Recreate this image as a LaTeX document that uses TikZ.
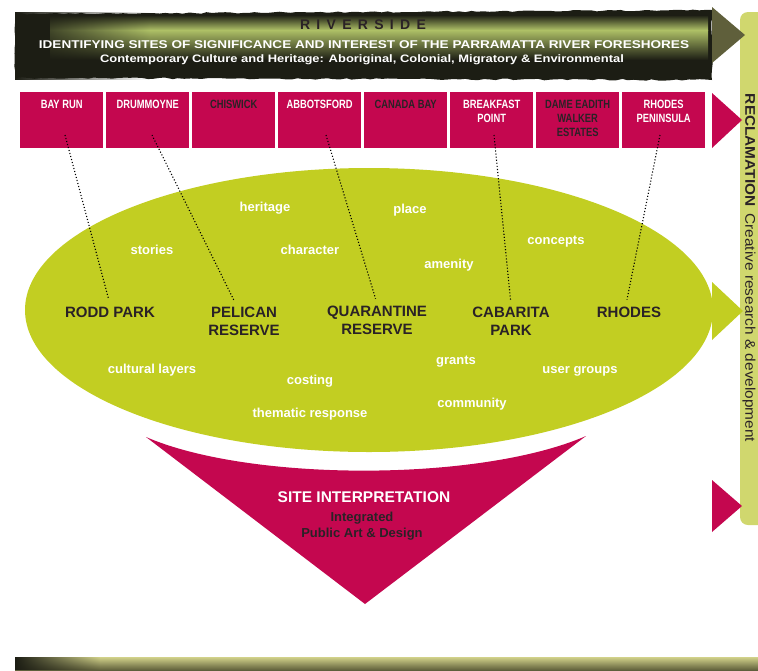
\documentclass[tikz,border=0pt]{standalone}
\usepackage{fontspec}
\setmainfont{Liberation Sans}
\newfontfamily\condensed[FakeStretch=0.78]{Liberation Sans}
\newfontfamily\narrow[FakeStretch=1.1]{Liberation Sans}
\newfontfamily\wide[FakeStretch=1.2]{Liberation Sans}
\usetikzlibrary{fadings,decorations.pathmorphing}

\definecolor{riverred}{HTML}{C4074F}
\definecolor{leaf}{HTML}{C2CE22}
\definecolor{reedbar}{HTML}{D0D76E}
\definecolor{olive}{HTML}{5F5F3B}
\definecolor{ink}{HTML}{2A2226}
\definecolor{bannerdark}{HTML}{1C1D14}
\definecolor{bannergreen}{HTML}{AEC066}
\definecolor{striplight}{HTML}{D2D28A}

\begin{document}
\begin{tikzpicture}[x=1pt,y=-1pt,
  suburb/.style={fill=riverred, minimum width=83, minimum height=56, inner sep=0, anchor=north west},
  suburbname/.style={font=\condensed\bfseries\fontsize{12}{14}\selectfont, align=center, anchor=north, inner sep=0},
  site/.style={font=\bfseries\fontsize{15}{18}\selectfont, text=ink, align=center, inner sep=2},
  theme/.style={font=\bfseries\fontsize{13}{15}\selectfont, text=white},
  pin/.style={dotted, line width=1.1pt, shorten >=5}]
  \useasboundingbox (0,0) rectangle (758,670);
  \clip (0,0) rectangle (758,670);

  % brushed banner across the top
  \fill[bannerdark, decorate, decoration={random steps, segment length=6, amplitude=0.8}]
    (15,14) -- (712,10) -- (712,80) -- (15,78) -- cycle;
  \shade[top color=bannerdark, bottom color=bannergreen] (50,15) rectangle (708,30);
  \shade[top color=bannergreen, bottom color=bannerdark] (50,30) rectangle (708,60);
  \fill[bannerdark, path fading=east] (15,12) rectangle (150,80);
  \node[font=\bfseries\fontsize{14}{16}\selectfont\addfontfeature{LetterSpace=45}, text=ink] (title) at (363,25) {RIVERSIDE};
  \node[font=\wide\bfseries\fontsize{11.3}{13}\selectfont, text=white] (subtitle) at (364,45)
    {IDENTIFYING SITES OF SIGNIFICANCE AND INTEREST OF THE PARRAMATTA RIVER FORESHORES};
  \node[font=\wide\bfseries\fontsize{10.8}{12}\selectfont, text=white] (strapline) at (362,60)
    {Contemporary Culture and Heritage: Aboriginal, Colonial, Migratory \& Environmental};

  % side bar
  \fill[reedbar, rounded corners=8] (740,12) rectangle (775,525);
  \node[rotate=-90, font=\narrow\fontsize{14}{16}\selectfont, text=ink, inner sep=0] (reclaim) at (749,268)
    {\textbf{RECLAMATION}\enspace Creative research \& development};

  % suburbs along the river
  \node[suburb] (bayrun) at (20,92) {};
  \node[suburb] (drummoyne) at (106,92) {};
  \node[suburb] (chiswick) at (192,92) {};
  \node[suburb] (abbotsford) at (278,92) {};
  \node[suburb] (canadabay) at (364,92) {};
  \node[suburb] (breakfast) at (450,92) {};
  \node[suburb] (dameeadith) at (536,92) {};
  \node[suburb] (rhodespen) at (622,92) {};
  \node[suburbname, text=white] at ([yshift=-8]bayrun.north) {BAY RUN};
  \node[suburbname, text=white] at ([yshift=-8]drummoyne.north) {DRUMMOYNE};
  \node[suburbname, text=ink] at ([yshift=-8]chiswick.north) {CHISWICK};
  \node[suburbname, text=white] at ([yshift=-8]abbotsford.north) {ABBOTSFORD};
  \node[suburbname, text=ink] at ([yshift=-8]canadabay.north) {CANADA BAY};
  \node[suburbname, text=white] at ([yshift=-8]breakfast.north) {BREAKFAST\\POINT};
  \node[suburbname, text=ink] at ([yshift=-8]dameeadith.north) {DAME EADITH\\WALKER\\ESTATES};
  \node[suburbname, text=white] at ([yshift=-8]rhodespen.north) {RHODES\\PENINSULA};

  % the sites themselves
  \fill[leaf] (369,310) ellipse [x radius=344, y radius=142];
  \node[site] (rodd) at (110,312) {RODD PARK};
  \node[site] (pelican) at (244,321) {PELICAN\\RESERVE};
  \node[site] (quarantine) at (377,320) {QUARANTINE\\RESERVE};
  \node[site] (cabarita) at (511,321) {CABARITA\\PARK};
  \node[site] (rhodes) at (629,312) {RHODES};

  \node[theme] (heritage) at (265,208) {heritage};
  \node[theme] (place) at (410,210) {place};
  \node[theme] (stories) at (152,250) {stories};
  \node[theme] (character) at (310,250) {character};
  \node[theme] (concepts) at (556,242) {concepts};
  \node[theme] (amenity) at (449,265) {amenity};
  \node[theme] (layers) at (152,370) {cultural layers};
  \node[theme] (costing) at (310,381) {costing};
  \node[theme] (grants) at (456,362) {grants};
  \node[theme] (users) at (580,371) {user groups};
  \node[theme] (community) at (472,404) {community};
  \node[theme] (thematic) at (310,414) {thematic response};

  % dotted pins from suburb to site
  \coordinate (bayrun pin) at (65,135);
  \coordinate (drummoyne pin) at (152,135);
  \coordinate (abbotsford pin) at (326,135);
  \coordinate (breakfast pin) at (494,135);
  \coordinate (rhodespen pin) at (660,135);
  \draw[pin] (bayrun pin) -- (rodd.north);
  \draw[pin] (drummoyne pin) -- ([xshift=-8]pelican.north);
  \draw[pin] (abbotsford pin) -- (quarantine.north);
  \draw[pin] (breakfast pin) -- (cabarita.north);
  \draw[pin] (rhodespen pin) -- ([xshift=-3]rhodes.north);

  % pointers into the side bar
  \fill[olive] (712,7) -- (745,35) -- (712,63) -- cycle;
  \fill[riverred] (712,93) -- (742,120) -- (712,148) -- cycle;
  \fill[leaf] (712,282) -- (743,311) -- (712,340) -- cycle;
  \fill[riverred] (712,480) -- (742,506) -- (712,532) -- cycle;

  % funnel down to the outcome
  \fill[riverred] (146,437) .. controls (250,482) and (480,482) .. (586,436) -- (365,604) -- cycle;
  \node[font=\bfseries\fontsize{15.5}{18}\selectfont, text=white] (interp) at (364,497) {SITE INTERPRETATION};
  \node[font=\bfseries\fontsize{13}{16}\selectfont, text=ink, align=center] (public) at (362,526)
    {Integrated\\Public Art \& Design};

  % strip along the foot
  \shade[top color=striplight, bottom color=olive] (15,657) rectangle (758,670);
  \fill[bannerdark, path fading=east] (15,657) rectangle (100,670);
\end{tikzpicture}
\end{document}
